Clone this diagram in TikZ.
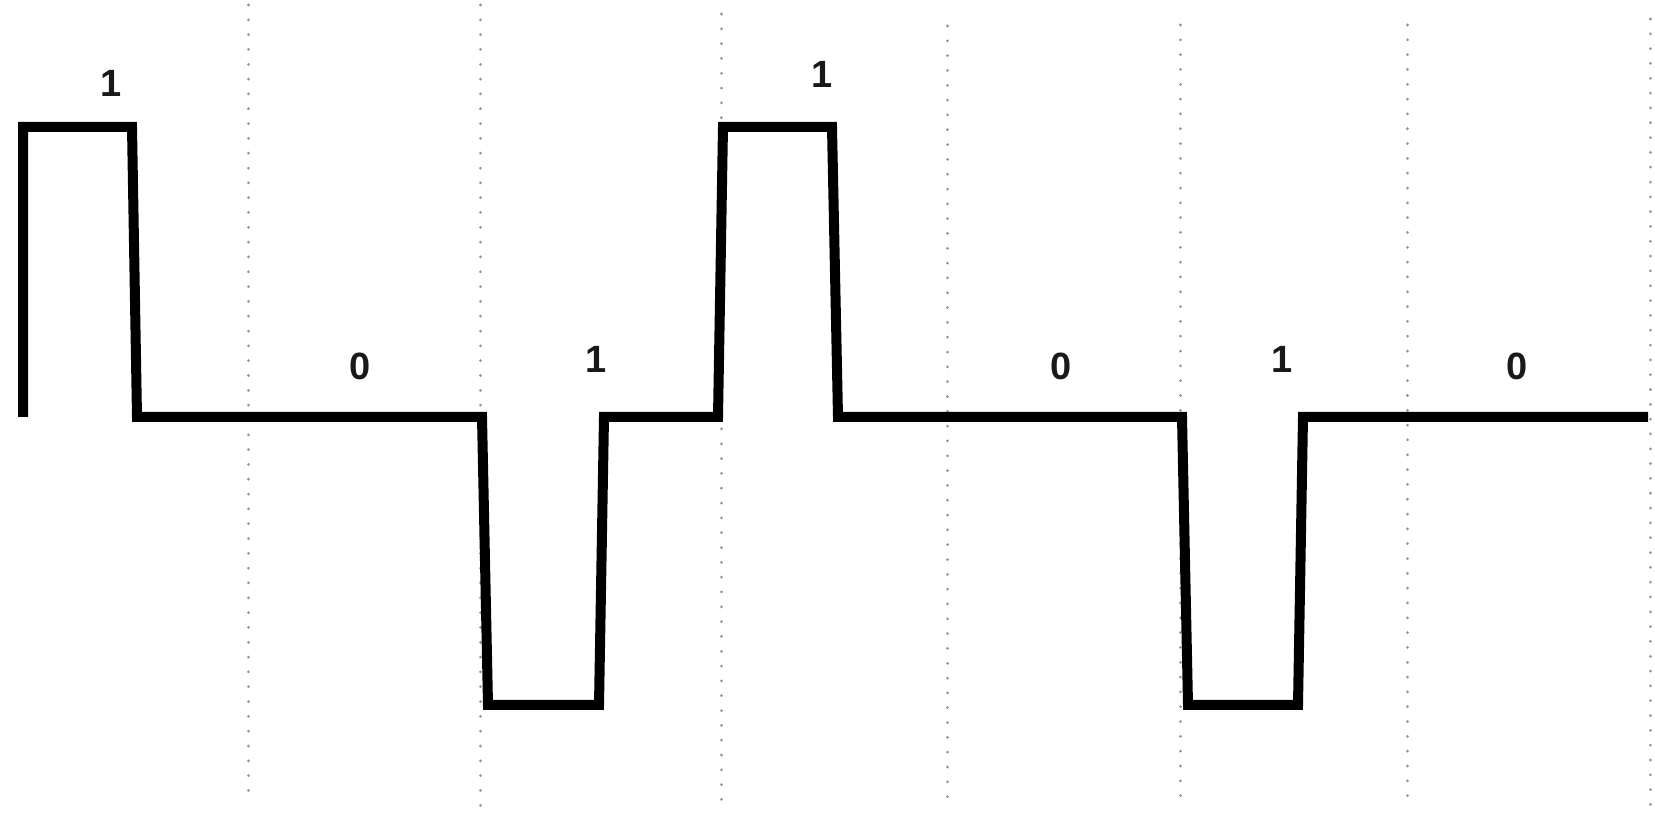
\documentclass[tikz,border=0pt]{standalone}
\usepackage{fontspec}
\setmainfont{Liberation Sans}
\begin{document}
\begin{tikzpicture}[x=0.5pt,y=-0.5pt,
  grid/.style={draw=black!42,line width=1.5pt,line cap=round,dash pattern=on 0.01pt off 7.4pt},
  signal/.style={draw=black,line width=5pt,line join=miter},
  bit/.style={font=\fontsize{19}{22}\selectfont\bfseries,text=black!90,inner sep=0pt,anchor=center}]
\useasboundingbox (0,0) rectangle (1655,822);
% dotted separators
\coordinate (g1t) at (248,5);   \coordinate (g1b) at (248,800);
\coordinate (g2t) at (480,5);   \coordinate (g2b) at (480,808);
\coordinate (g3t) at (721,14);  \coordinate (g3b) at (721,808);
\coordinate (g4t) at (947,26);  \coordinate (g4b) at (947,804);
\coordinate (g5t) at (1180,25); \coordinate (g5b) at (1180,804);
\coordinate (g6t) at (1407,25); \coordinate (g6b) at (1407,804);
\coordinate (g7t) at (1650,19); \coordinate (g7b) at (1650,812);
\foreach \i in {1,...,7} {\draw[grid] (g\i t) -- (g\i b);}
% signal
\coordinate (s0) at (23,417);
\coordinate (s1) at (23,127);
\coordinate (s2) at (132,127);
\coordinate (s3) at (137,417);
\coordinate (s4) at (482,417);
\coordinate (s5) at (488,705);
\coordinate (s6) at (599,705);
\coordinate (s7) at (604,417);
\coordinate (s8) at (718,417);
\coordinate (s9) at (723,127);
\coordinate (s10) at (832,127);
\coordinate (s11) at (838,417);
\coordinate (s12) at (1182,417);
\coordinate (s13) at (1188,705);
\coordinate (s14) at (1298,705);
\coordinate (s15) at (1303,417);
\coordinate (s16) at (1648,417);
\draw[signal] (s0) -- (s1) -- (s2) -- (s3) -- (s4) -- (s5) -- (s6) -- (s7) -- (s8)
  -- (s9) -- (s10) -- (s11) -- (s12) -- (s13) -- (s14) -- (s15) -- (s16);
% bit labels
\node[bit] (b1) at (111,83) {1};
\node[bit] (b2) at (360,366) {0};
\node[bit] (b3) at (596,359) {1};
\node[bit] (b4) at (822,74) {1};
\node[bit] (b5) at (1061,366) {0};
\node[bit] (b6) at (1282,359) {1};
\node[bit] (b7) at (1517,366) {0};
\end{tikzpicture}
\end{document}
